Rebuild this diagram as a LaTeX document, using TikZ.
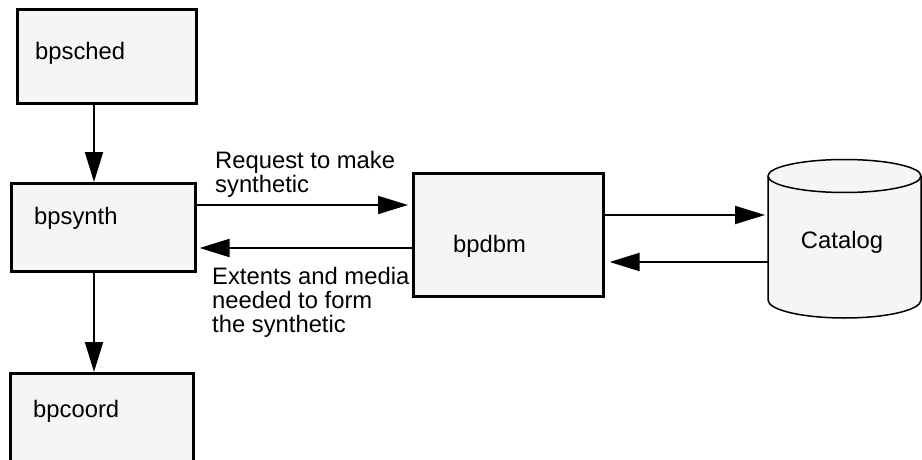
\documentclass[tikz,border=0pt]{standalone}
\usepackage{fontspec}
\setmainfont{Liberation Sans}
\usetikzlibrary{arrows.meta}
\definecolor{boxfill}{HTML}{F5F5F5}
\begin{document}
\begin{tikzpicture}[x=1pt,y=-1pt,
  box/.style={draw=black, line width=2.6pt, fill=boxfill, inner sep=0pt, anchor=north west},
  lbl/.style={inner sep=0pt, anchor=base west, font=\fontsize{23.8}{24}\selectfont},
  arr/.style={line width=2pt, -{Triangle[length=30pt,width=18pt]}}]
\useasboundingbox (0,0) rectangle (922,460);
\begin{scope}
\clip (0,0) rectangle (922,460);
\node[box, minimum width=179pt, minimum height=94pt] (sched) at (16,8) {};
\node[box, minimum width=184pt, minimum height=88pt] (synth) at (10,182) {};
\node[box, minimum width=183pt, minimum height=110pt] (coord) at (9,372) {};
\node[box, minimum width=190pt, minimum height=123pt] (dbm) at (412,172) {};
% cylinder
\fill[boxfill] (768,176) -- (768,300) arc[start angle=180, end angle=360, x radius=76.5pt, y radius=18pt] -- (921,176) -- cycle;
\draw[line width=1.5pt] (768,176) -- (768,300) arc[start angle=180, end angle=360, x radius=76.5pt, y radius=18pt] -- (921,176);
\draw[line width=1.5pt, fill=boxfill] (844.5,176) ellipse[x radius=76.5pt, y radius=16.5pt];
\coordinate (cat) at (844.5,240);
\coordinate (catw) at (768,240);
\end{scope}
\node[lbl] (tsched) at (35,60) {bpsched};
\node[lbl] (tsynth) at (34,224) {bpsynth};
\node[lbl] (tcoord) at (33,417) {bpcoord};
\node[lbl] (tdbm) at (453,252) {bpdbm};
\node[lbl, anchor=base] (tcat) at (842,248) {Catalog};
\node[lbl] (req1) at (215,168) {Request to make};
\node[lbl] (req2) at (215,192) {synthetic};
\node[lbl] (ext1) at (212,284) {Extents and media};
\node[lbl] (ext2) at (212,308) {needed to form};
\node[lbl] (ext3) at (212,332) {the synthetic};
% connectors
\draw[arr] (sched.south -| 94,0) -- (synth.north -| 94,0);
\draw[arr] (synth.south -| 94,0) -- (coord.north -| 94,0);
\draw[arr] (synth.east |- 0,205) -- ([xshift=-4pt]dbm.west |- 0,205);
\draw[arr] ([xshift=3pt]dbm.west |- 0,248) -- ([xshift=3pt]synth.east |- 0,248);
\draw[arr] ([xshift=-2pt]dbm.east |- 0,215) -- ([xshift=-3pt]catw |- 0,215);
\draw[arr] (catw |- 0,262) -- ([xshift=5pt]dbm.east |- 0,262);
\end{tikzpicture}
\end{document}
